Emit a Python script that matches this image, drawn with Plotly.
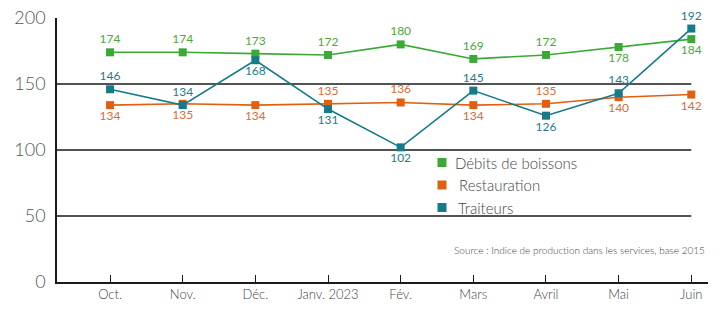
import plotly.graph_objects as go

months = ["Oct.", "Nov.", "Déc.", "Janv. 2023", "Fév.", "Mars", "Avril", "Mai", "Juin"]
debits = [174, 174, 173, 172, 180, 169, 172, 178, 184]
restauration = [134, 135, 134, 135, 136, 134, 135, 140, 142]
traiteurs = [146, 134, 168, 131, 102, 145, 126, 143, 192]

debits_pos = ["top center"] * 7 + ["bottom center"] * 2
resto_pos = ["bottom center", "bottom center", "bottom center", "top center", "top center",
             "bottom center", "top center", "bottom center", "bottom center"]
trait_pos = ["top center", "top center", "bottom center", "bottom center", "bottom center",
             "top center", "bottom center", "top center", "top center"]

series = [
    ("Débits de boissons", debits, debits_pos, "#3aa935", "#4ea63e"),
    ("Restauration", restauration, resto_pos, "#e0600f", "#dc6a35"),
    ("Traiteurs", traiteurs, trait_pos, "#137b8a", "#267a8a"),
]

FONT = "Lato"
W, H = 724, 330
L, R, T, B = 57, 16, 18, 48
PW, PH = W - L - R, H - T - B


def px(x):
    return (x - L) / PW


def py(y):
    return (H - B - y) / PH


fig = go.Figure()

# gridlines ending at last category
for g in [50, 100, 150]:
    fig.add_shape(type="line", xref="x", yref="y", x0=-0.73, x1=8, y0=g, y1=g,
                  line=dict(color="#1a1a1a", width=1.3), layer="below")

for name, vals, pos, col, tcol in series:
    fig.add_trace(go.Scatter(
        x=months, y=vals, mode="lines+markers+text", name=name,
        text=[str(v) for v in vals], textposition=pos,
        textfont=dict(family=FONT, size=12, color=tcol, weight=400),
        line=dict(color=col, width=1.6),
        marker=dict(symbol="square", size=8, color=col),
        showlegend=False, cliponaxis=False,
    ))

# manual legend
leg_y = [162.5, 185, 207.5]
leg_tx = [453, 457, 456]
for (name, vals, pos, col, tcol), ly, tx in zip(series, leg_y, leg_tx):
    fig.add_shape(type="rect", xref="paper", yref="paper",
                  xsizemode="pixel", ysizemode="pixel",
                  xanchor=px(442), yanchor=py(ly),
                  x0=-4.5, x1=4.5, y0=-4.5, y1=4.5,
                  fillcolor=col, line=dict(width=0))
    fig.add_annotation(text=name, xref="paper", yref="paper",
                       x=px(tx), y=py(ly), xanchor="left", yanchor="middle",
                       showarrow=False,
                       font=dict(family=FONT, size=15, color="#444", weight=300))

fig.add_annotation(
    text="Source : Indice de production dans les services, base 2015",
    xref="paper", yref="paper", x=px(707), y=py(250),
    xanchor="right", yanchor="middle", showarrow=False,
    font=dict(family=FONT, size=10, color="#444", weight=300),
)

fig.update_layout(
    width=W, height=H,
    margin=dict(l=L, r=R, t=T, b=B),
    paper_bgcolor="white", plot_bgcolor="white",
    font=dict(family=FONT, color="#444"),
    showlegend=False,
    xaxis=dict(
        type="category", range=[-0.73, 8.23], automargin=False,
        showline=True, linecolor="#1a1a1a", linewidth=1.5,
        ticks="inside", ticklen=7, tickcolor="#1a1a1a", tickwidth=1.3,
        tickfont=dict(family=FONT, size=13, color="#444", weight=300),
        showgrid=False, zeroline=False,
    ),
    yaxis=dict(
        range=[0, 200], tickvals=[0, 50, 100, 150, 200], automargin=False,
        showline=True, linecolor="#1a1a1a", linewidth=1.5,
        ticks="", ticklabelstandoff=6,
        tickfont=dict(family=FONT, size=18, color="#555", weight=300),
        showgrid=False, zeroline=False,
    ),
)

fig.write_html("out.html")
